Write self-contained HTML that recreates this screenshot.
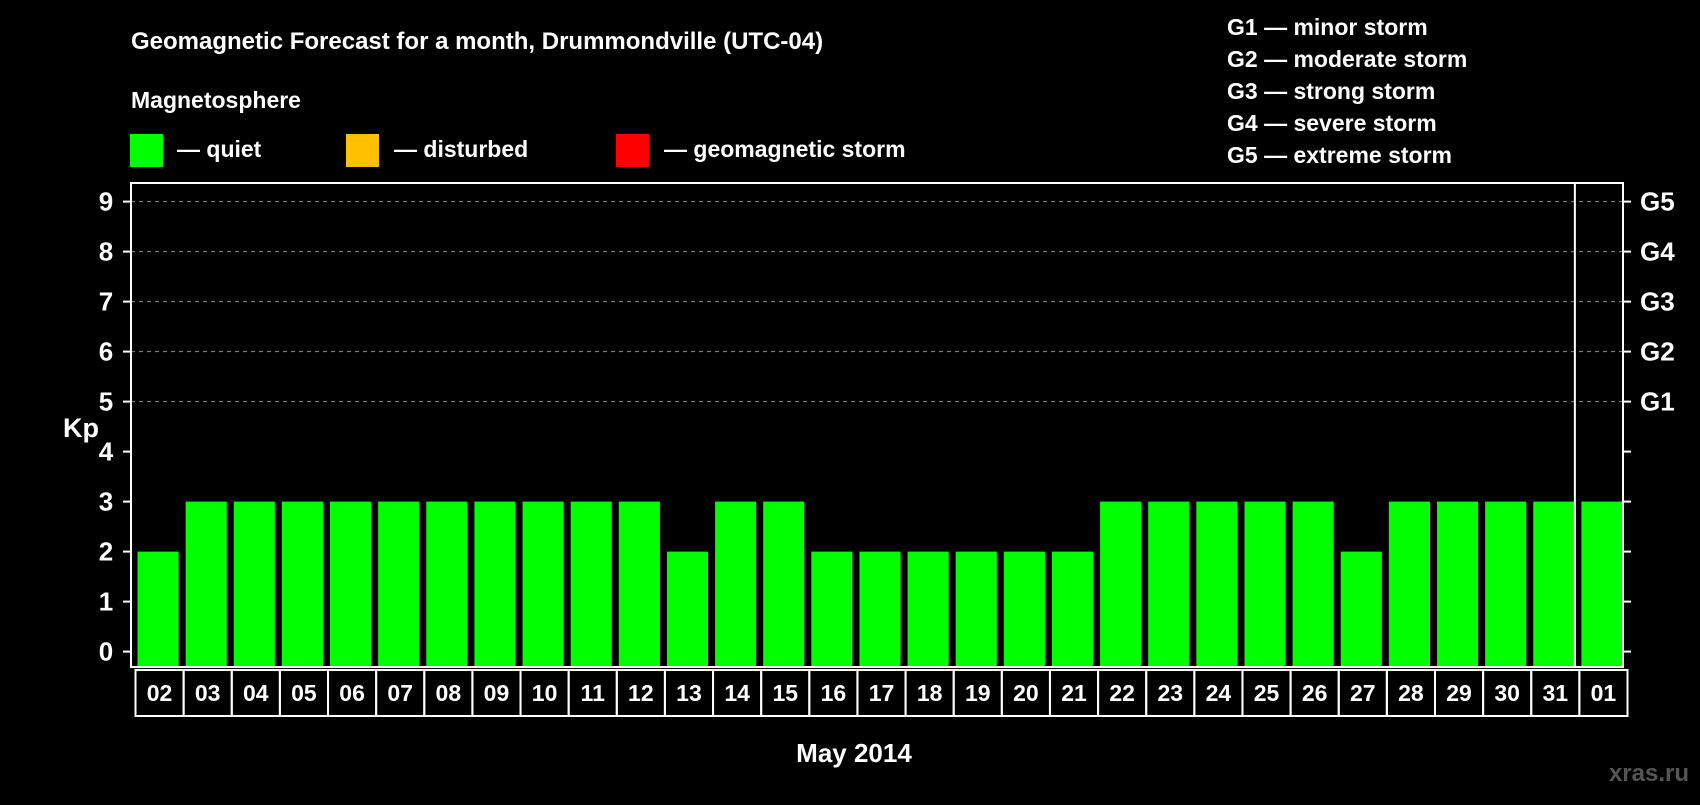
<!DOCTYPE html>
<html><head><meta charset="utf-8"><style>
body{margin:0;background:#000;width:1700px;height:800px;overflow:hidden;font-family:"Liberation Sans",Arial,sans-serif}
svg text{font-family:"Liberation Sans",Arial,sans-serif;font-weight:bold;fill:#fff}
</style></head><body>
<svg id="c" width="1700" height="800">
<text x="131" y="49" font-size="24">Geomagnetic Forecast for a month, Drummondville (UTC-04)</text>
<text x="131" y="108" font-size="23">Magnetosphere</text>
<rect x="130" y="134" width="33" height="33" fill="#00ff00"/>
<text x="177" y="157" font-size="23">— quiet</text>
<rect x="346" y="134" width="33" height="33" fill="#ffc000"/>
<text x="394" y="157" font-size="23">— disturbed</text>
<rect x="616" y="134" width="33" height="33" fill="#ff0000"/>
<text x="664" y="157" font-size="23">— geomagnetic storm</text>
<g font-size="23">
<text x="1227" y="35">G1 — minor storm</text>
<text x="1227" y="67">G2 — moderate storm</text>
<text x="1227" y="99">G3 — strong storm</text>
<text x="1227" y="131">G4 — severe storm</text>
<text x="1227" y="163">G5 — extreme storm</text>
</g>
<text x="63" y="437" font-size="27">Kp</text>
<text x="854" y="762" font-size="26" text-anchor="middle">May 2014</text>
<text x="1689" y="781" font-size="24" text-anchor="end" style="fill:#555">xras.ru</text>
<g id="plot"></g>
</svg>
<script>
const days=["02","03","04","05","06","07","08","09","10","11","12","13","14","15","16","17","18","19","20","21","22","23","24","25","26","27","28","29","30","31","01"];
const kp=[2,3,3,3,3,3,3,3,3,3,3,2,3,3,2,2,2,2,2,2,3,3,3,3,3,2,3,3,3,3,3];
const yTicks=[0,1,2,3,4,5,6,7,8,9];
const gLabels=["G1","G2","G3","G4","G5"];
const NS="http://www.w3.org/2000/svg";
const g=document.getElementById('plot');
const L=131,R=1623,T=183,B=667;
const pitch=(R-L)/days.length;
const y=v=>651.6-v*50;
const x=i=>L+i*pitch;
function mk(t,a){const e=document.createElementNS(NS,t);for(const k in a)e.setAttribute(k,a[k]);g.appendChild(e);return e;}
yTicks.forEach(v=>{
 if(v>=5){const l=mk('line',{x1:L,x2:R,y1:y(v),y2:y(v),stroke:'#888','stroke-dasharray':'4,4','stroke-width':1});
 
 }
 const t1=mk('line',{x1:L-8,x2:L,y1:y(v),y2:y(v),stroke:'#fff','stroke-width':2});
 
 
 const t2=mk('line',{x1:R,x2:R+8,y1:y(v),y2:y(v),stroke:'#fff','stroke-width':2});
 
 
 const tx=mk('text',{x:106,y:y(v)+9,'font-size':26,'text-anchor':'middle'});
 tx.textContent=v;
 
 
});
gLabels.forEach((s,i)=>{
 const tx=mk('text',{x:1640,y:y(5+i)+9,'font-size':26});
 tx.textContent=s;
 
 
});
kp.forEach((v,i)=>{
 const c=v>=5?'#ff0000':(v>=4?'#ffc000':'#00ff00');
 const r=mk('rect',{x:x(i)+6.5,y:y(v),width:pitch-7,height:y(0)+15.4-y(v),fill:c});
 
 
 const b=mk('rect',{x:x(i)+4.5,y:670,width:pitch,height:46,fill:'none',stroke:'#fff','stroke-width':2});
 
 
 const t=mk('text',{x:x(i)+4.5+pitch/2,y:701,'font-size':23,'text-anchor':'middle'});
 t.textContent=days[i];
 
 
});
const f=mk('rect',{x:L,y:T,width:R-L,height:B-T,fill:'none',stroke:'#fff','stroke-width':2});


const d=mk('line',{x1:x(30),x2:x(30),y1:T,y2:B,stroke:'#fff','stroke-width':2});


</script>
</body></html>
